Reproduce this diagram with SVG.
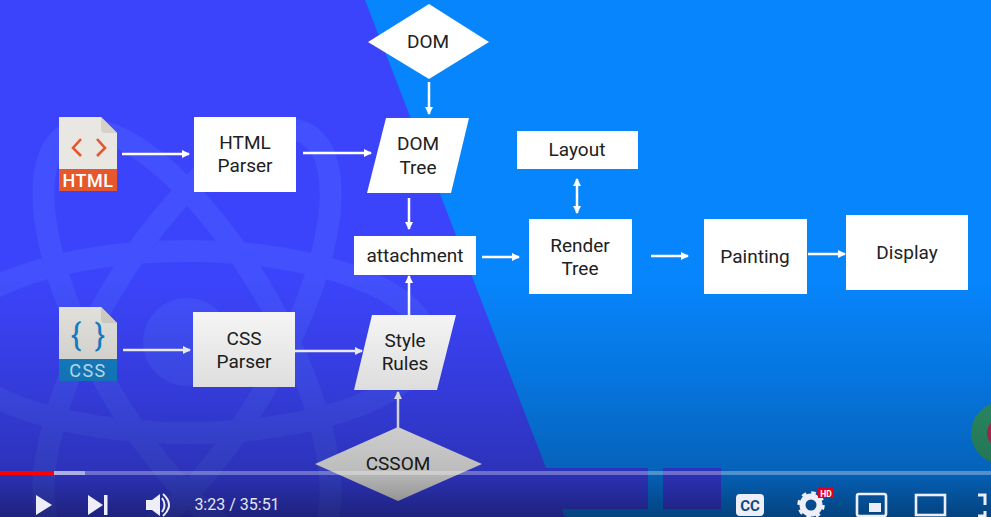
<svg xmlns="http://www.w3.org/2000/svg" width="991" height="517" viewBox="0 0 991 517">
<style>
text{font-family:Roboto,"Liberation Sans",sans-serif;fill:#212121;font-size:19px;text-anchor:middle}
.box{fill:#fff}
.c line{stroke:#fff;stroke-width:2.5;fill:none}
.atom{fill:none;stroke:#4250fd;stroke-width:22}
.ctl{fill:#eeeef8}
.ctls{fill:none;stroke:#eeeef8}
</style>
<defs>
<marker id="a" markerWidth="10" markerHeight="10" refX="7" refY="4" orient="auto" markerUnits="userSpaceOnUse"><path d="M0 0L8 4L0 8Z" fill="#fff"/></marker>
<marker id="b" markerWidth="10" markerHeight="10" refX="1" refY="4" orient="auto" markerUnits="userSpaceOnUse"><path d="M8 0L0 4L8 8Z" fill="#fff"/></marker>
<linearGradient id="fade" x1="0" y1="0" x2="0" y2="1"><stop offset="0" stop-color="#000" stop-opacity="0"/><stop offset=".45" stop-color="#000" stop-opacity=".13"/><stop offset=".8" stop-color="#000" stop-opacity=".26"/><stop offset="1" stop-color="#000" stop-opacity=".5"/></linearGradient>
</defs>
<g id="background">
<rect width="991" height="517" fill="#0785fc"/>
<path d="M0 0H365L565 517H0Z" fill="#3c44fb"/>
<g class="atom">
<ellipse cx="187" cy="342" rx="240" ry="91"/>
<ellipse cx="187" cy="342" rx="240" ry="91" transform="rotate(60 187 342)"/>
<ellipse cx="187" cy="342" rx="240" ry="91" transform="rotate(120 187 342)"/>
<circle cx="187" cy="342" r="44" fill="#4250fd" stroke="none"/>
</g>
<rect x="365" y="468" width="283" height="41" fill="#3c44fb"/>
<rect x="663" y="468" width="58" height="41" fill="#3c44fb"/>
<circle cx="1002" cy="433" r="31" fill="#2f9d72"/>
<circle cx="1002" cy="433" r="15" fill="#c0325a"/>
</g>
<g class="c" id="connectors">
<line x1="122" y1="154" x2="189" y2="154" marker-end="url(#a)"/>
<line x1="303" y1="153" x2="371" y2="153" marker-end="url(#a)"/>
<line x1="429" y1="82" x2="429" y2="114" marker-end="url(#a)"/>
<line x1="409" y1="198" x2="409" y2="229" marker-end="url(#a)"/>
<line x1="482" y1="257" x2="519" y2="257" marker-end="url(#a)"/>
<line x1="577" y1="179" x2="577" y2="213" marker-end="url(#a)" marker-start="url(#b)"/>
<line x1="651" y1="256" x2="688" y2="256" marker-end="url(#a)"/>
<line x1="808" y1="254" x2="845" y2="254" marker-end="url(#a)"/>
<line x1="123" y1="350" x2="190" y2="350" marker-end="url(#a)"/>
<line x1="295" y1="351" x2="362" y2="351" marker-end="url(#a)"/>
<line x1="409" y1="315" x2="409" y2="276" marker-end="url(#a)"/>
<line x1="398" y1="428" x2="398" y2="392" marker-end="url(#a)"/>
</g>
<g id="html-icon">
<path d="M59 117H101L117 133V191H59Z" fill="#e9e7e2"/>
<path d="M101 117L117 133H105Q101 133 101 129Z" fill="#d6d2ca"/>
<rect x="59" y="169" width="58" height="22" fill="#e5572c"/>
<path d="M81 139L73 148L81 156M97 139L105 148L97 156" fill="none" stroke="#e5572c" stroke-width="2.6"/>
<text x="88" y="187" style="fill:#fff;font-size:18px;font-weight:500;letter-spacing:.5px">HTML</text>
</g>
<g id="css-icon">
<path d="M59 307H101L117 323V381H59Z" fill="#e9e7e2"/>
<path d="M101 307L117 323H105Q101 323 101 319Z" fill="#d6d2ca"/>
<rect x="59" y="359" width="58" height="22" fill="#1483cc"/>
<text x="76" y="346" style="fill:#1483cc;font-size:31px">{</text>
<text x="100" y="346" style="fill:#1483cc;font-size:31px">}</text>
<text x="88" y="377" style="fill:#d5ecf8;font-size:18px;letter-spacing:1.5px">CSS</text>
</g>
<g id="html-parser"><rect class="box" x="194" y="117" width="102" height="75"/><text x="245" y="149">HTML</text><text x="245" y="172">Parser</text></g>
<g id="dom"><path class="box" d="M368 42L429 4L489 42L429 79Z"/><text x="428" y="48">DOM</text></g>
<g id="dom-tree"><path class="box" d="M386 118H469L451 193H367Z"/><text x="418" y="150">DOM</text><text x="418" y="174">Tree</text></g>
<g id="attachment"><rect class="box" x="354" y="236" width="122" height="39"/><text x="415" y="262">attachment</text></g>
<g id="layout"><rect class="box" x="517" y="131" width="121" height="38"/><text x="577" y="156">Layout</text></g>
<g id="render-tree"><rect class="box" x="529" y="219" width="103" height="75"/><text x="580" y="252">Render</text><text x="580" y="275">Tree</text></g>
<g id="painting"><rect class="box" x="704" y="219" width="103" height="75"/><text x="755" y="263">Painting</text></g>
<g id="display"><rect class="box" x="846" y="215" width="122" height="75"/><text x="907" y="259">Display</text></g>
<g id="css-parser"><rect class="box" x="193" y="312" width="102" height="75"/><text x="244" y="345">CSS</text><text x="244" y="368">Parser</text></g>
<g id="style-rules"><path class="box" d="M372 315H456L437 390H354Z"/><text x="405" y="347">Style</text><text x="405" y="370">Rules</text></g>
<g id="cssom"><path class="box" d="M315 464L398 427L482 464L398 501Z"/><text x="398" y="470">CSSOM</text></g>
<rect id="shade" y="280" width="991" height="237" fill="url(#fade)"/>
<g id="player">
<rect y="471" width="991" height="4" fill="#fff" opacity=".3"/>
<rect x="54" y="471" width="31" height="4" fill="#fff" opacity=".45"/>
<rect y="471" width="54" height="4" fill="#f00"/>
<path class="ctl" d="M36 495L52 505L36 515Z"/>
<path class="ctl" d="M88 495L103 505L88 515Z"/><rect class="ctl" x="104" y="495" width="3.5" height="20"/>
<path class="ctl" d="M146 500H152L160 494V516L152 510H146Z"/>
<path class="ctls" stroke-width="2" d="M162 498Q167 505 162 512M163 494Q175 505 163 516"/>
<text x="237" y="510" style="fill:#e4e4f2;font-size:16px">3:23 / 35:51</text>
<rect class="ctl" x="736" y="494" width="28" height="22" rx="4"/>
<text x="750" y="511" style="fill:#0b4a88;font-size:15px;font-weight:700">CC</text>
<circle cx="811" cy="505" r="8.5" fill="none" stroke="#eeeef8" stroke-width="6"/>
<circle cx="811" cy="505" r="12" fill="none" stroke="#eeeef8" stroke-width="3.5" stroke-dasharray="4.5 4.9"/>
<rect x="818" y="488" width="16" height="10" fill="#e0001b"/>
<text x="826" y="497" style="fill:#fff;font-size:8.5px;font-weight:700">HD</text>
<rect class="ctls" x="857" y="494" width="29" height="22" rx="2" stroke-width="2.6"/>
<rect class="ctl" x="869" y="503" width="12" height="9"/>
<rect class="ctls" x="916" y="495" width="29" height="20" stroke-width="2.6"/>
<path class="ctls" stroke-width="3" d="M985 505V495H978M978 516H985V511"/>
</g>
</svg>
